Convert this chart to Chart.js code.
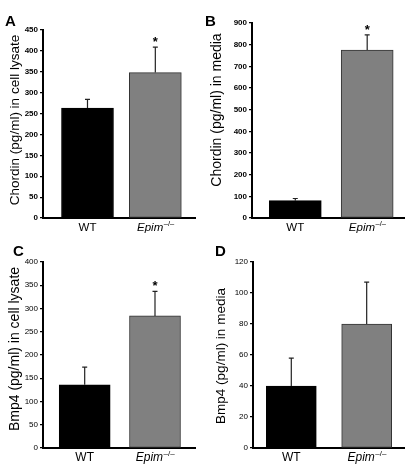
<!DOCTYPE html>
<html>
<head>
<meta charset="utf-8">
<script src="https://cdn.jsdelivr.net/npm/chart.js@4.4.0/dist/chart.umd.min.js"></script>
<style>
  body { margin: 0; background: #fff; }
  #wrap { position: relative; width: 405px; height: 470px; overflow: hidden; }
  .panel { position: absolute; }
  .letter { position: absolute; font: bold 15px "Liberation Sans", Arial, sans-serif; color: #000; line-height: 15px; }
</style>
</head>
<body>
<div id="wrap">
  <canvas id="chartA" class="panel" width="200" height="235" style="left:0;top:0"></canvas>
  <canvas id="chartB" class="panel" width="205" height="235" style="left:200px;top:0"></canvas>
  <canvas id="chartC" class="panel" width="200" height="235" style="left:0;top:235px"></canvas>
  <canvas id="chartD" class="panel" width="205" height="235" style="left:200px;top:235px"></canvas>
  <div class="letter" style="left:5px;top:13px">A</div>
  <div class="letter" style="left:205px;top:13px">B</div>
  <div class="letter" style="left:13px;top:243px">C</div>
  <div class="letter" style="left:215px;top:243px">D</div>
</div>
<script>
// groups on the x axis
const groups = ['WT', 'Epim'];
const groupSup = ['', '–/–'];

// A: chordin in cell lysate
const chordinLysate = [263, 348];
const chordinLysateErr = [21, 61];
const chordinLysateSig = [false, true];

// B: chordin in media
const chordinMedia = [80, 775];
const chordinMediaErr = [10, 70];
const chordinMediaSig = [false, true];

// C: bmp4 in cell lysate
const bmp4Lysate = [136, 284];
const bmp4LysateErr = [38, 53];
const bmp4LysateSig = [false, true];

// D: bmp4 in media
const bmp4Media = [40, 80];
const bmp4MediaErr = [18, 27];
const bmp4MediaSig = [false, false];

const FONT = '"Liberation Sans", Arial, sans-serif';

// error bars, stars, group labels and the y title
const extras = {
  id: 'extras',
  afterDatasetsDraw(chart, args, o) {
    const ctx = chart.ctx;
    const xs = chart.scales.x, ys = chart.scales.y;
    const area = chart.chartArea;
    ctx.save();
    o.values.forEach((v, i) => {
      const cx = xs.getPixelForValue(i);
      const y0 = ys.getPixelForValue(v);
      const y1 = ys.getPixelForValue(v + o.errors[i]);
      ctx.strokeStyle = '#222';
      ctx.lineWidth = 1.2;
      ctx.beginPath();
      ctx.moveTo(cx, y0);
      ctx.lineTo(cx, y1);
      ctx.moveTo(cx - 2.5, y1);
      ctx.lineTo(cx + 2.5, y1);
      ctx.stroke();
      if (o.sig[i]) {
        ctx.fillStyle = '#000';
        ctx.font = 'bold 13px ' + FONT;
        ctx.textAlign = 'center';
        ctx.textBaseline = 'alphabetic';
        ctx.fillText('*', cx, y1 - 1);
      }
    });

    // group labels under the axis
    ctx.fillStyle = '#000';
    ctx.textBaseline = 'middle';
    ctx.textAlign = 'left';
    groups.forEach((g, i) => {
      const cx = xs.getPixelForValue(i);
      const ly = area.bottom + o.labelGap;
      const mainFont = (groupSup[i] ? 'italic ' : '') + o.labelSize + 'px ' + FONT;
      const supFont = (o.labelSize - 4) + 'px ' + FONT;
      ctx.font = mainFont;
      const w1 = ctx.measureText(g).width;
      ctx.font = supFont;
      const w2 = groupSup[i] ? ctx.measureText(groupSup[i]).width : 0;
      const sx = cx - (w1 + w2) / 2;
      ctx.font = mainFont;
      ctx.fillText(g, sx, ly);
      if (groupSup[i]) {
        ctx.font = supFont;
        ctx.fillText(groupSup[i], sx + w1 + 0.5, ly - 4);
      }
    });

    // y title
    ctx.translate(o.titleX, o.titleY);
    ctx.rotate(-Math.PI / 2);
    ctx.font = o.titleSize + 'px ' + FONT;
    ctx.textAlign = 'center';
    ctx.textBaseline = 'middle';
    ctx.fillText(o.title, 0, 0);
    ctx.restore();
  }
};

function makePanel(id, p) {
  new Chart(document.getElementById(id), {
    type: 'bar',
    data: {
      datasets: [{
        data: p.values.map((v, i) => ({ x: i, y: v })),
        backgroundColor: ['#000000', '#808080'],
        borderColor: ['#000000', '#333333'],
        borderWidth: 1,
        borderSkipped: false,
        barThickness: p.barWidth
      }]
    },
    options: {
      responsive: false,
      animation: false,
      devicePixelRatio: 1,
      layout: { padding: p.padding },
      plugins: {
        legend: { display: false },
        tooltip: { enabled: false },
        extras: {
          values: p.values, errors: p.errors, sig: p.sig,
          title: p.title, titleX: p.titleX, titleY: p.titleY, titleSize: p.titleSize,
          labelGap: 9.5, labelSize: p.labelSize
        }
      },
      scales: {
        x: {
          type: 'linear',
          offset: false,
          min: p.xMin,
          max: p.xMax,
          afterBuildTicks: s => { s.ticks = [{ value: 0 }, { value: 1 }]; },
          afterFit: s => { s.height = p.xHeight; },
          ticks: { display: false },
          grid: { display: false, offset: false },
          border: { color: '#000', width: 2 }
        },
        y: {
          min: 0,
          max: p.yMax,
          afterFit: s => { s.width = p.yWidth; },
          ticks: {
            stepSize: p.yStep,
            color: '#000',
            padding: 2,
            font: { family: FONT, size: 8, weight: p.tickBold ? 'bold' : 'normal' }
          },
          grid: { drawOnChartArea: false, drawTicks: true, tickLength: 3, color: '#000', lineWidth: 1.2 },
          border: { color: '#000', width: 2 }
        }
      }
    },
    plugins: [extras]
  });
}

makePanel('chartA', {
  values: chordinLysate, errors: chordinLysateErr, sig: chordinLysateSig,
  yMax: 450, yStep: 50, tickBold: true,
  title: 'Chordin (pg/ml) in cell lysate', titleX: 15, titleY: 120, titleSize: 13.5,
  xMin: -0.656, xMax: 1.585, barWidth: 52,
  padding: { top: 30, right: 5, left: 0, bottom: 0 }, yWidth: 43, xHeight: 17, labelSize: 11.5
});
makePanel('chartB', {
  values: chordinMedia, errors: chordinMediaErr, sig: chordinMediaSig,
  yMax: 900, yStep: 100, tickBold: true,
  title: 'Chordin (pg/ml) in media', titleX: 17, titleY: 110, titleSize: 14,
  xMin: -0.602, xMax: 1.512, barWidth: 52,
  padding: { top: 23, right: 1, left: 0, bottom: 0 }, yWidth: 52, xHeight: 17, labelSize: 11.5
});
makePanel('chartC', {
  values: bmp4Lysate, errors: bmp4LysateErr, sig: bmp4LysateSig,
  yMax: 400, yStep: 50, tickBold: false,
  title: 'Bmp4 (pg/ml) in cell lysate', titleX: 15, titleY: 114, titleSize: 14,
  xMin: -0.593, xMax: 1.569, barWidth: 51,
  padding: { top: 27, right: 5, left: 0, bottom: 0 }, yWidth: 43, xHeight: 22, labelSize: 12
});
makePanel('chartD', {
  values: bmp4Media, errors: bmp4MediaErr, sig: bmp4MediaSig,
  yMax: 120, yStep: 20, tickBold: false,
  title: 'Bmp4 (pg/ml) in media', titleX: 21, titleY: 121, titleSize: 13.5,
  xMin: -0.508, xMax: 1.495, barWidth: 50,
  padding: { top: 27, right: 1, left: 0, bottom: 0 }, yWidth: 53, xHeight: 22, labelSize: 12
});
</script>
</body>
</html>
